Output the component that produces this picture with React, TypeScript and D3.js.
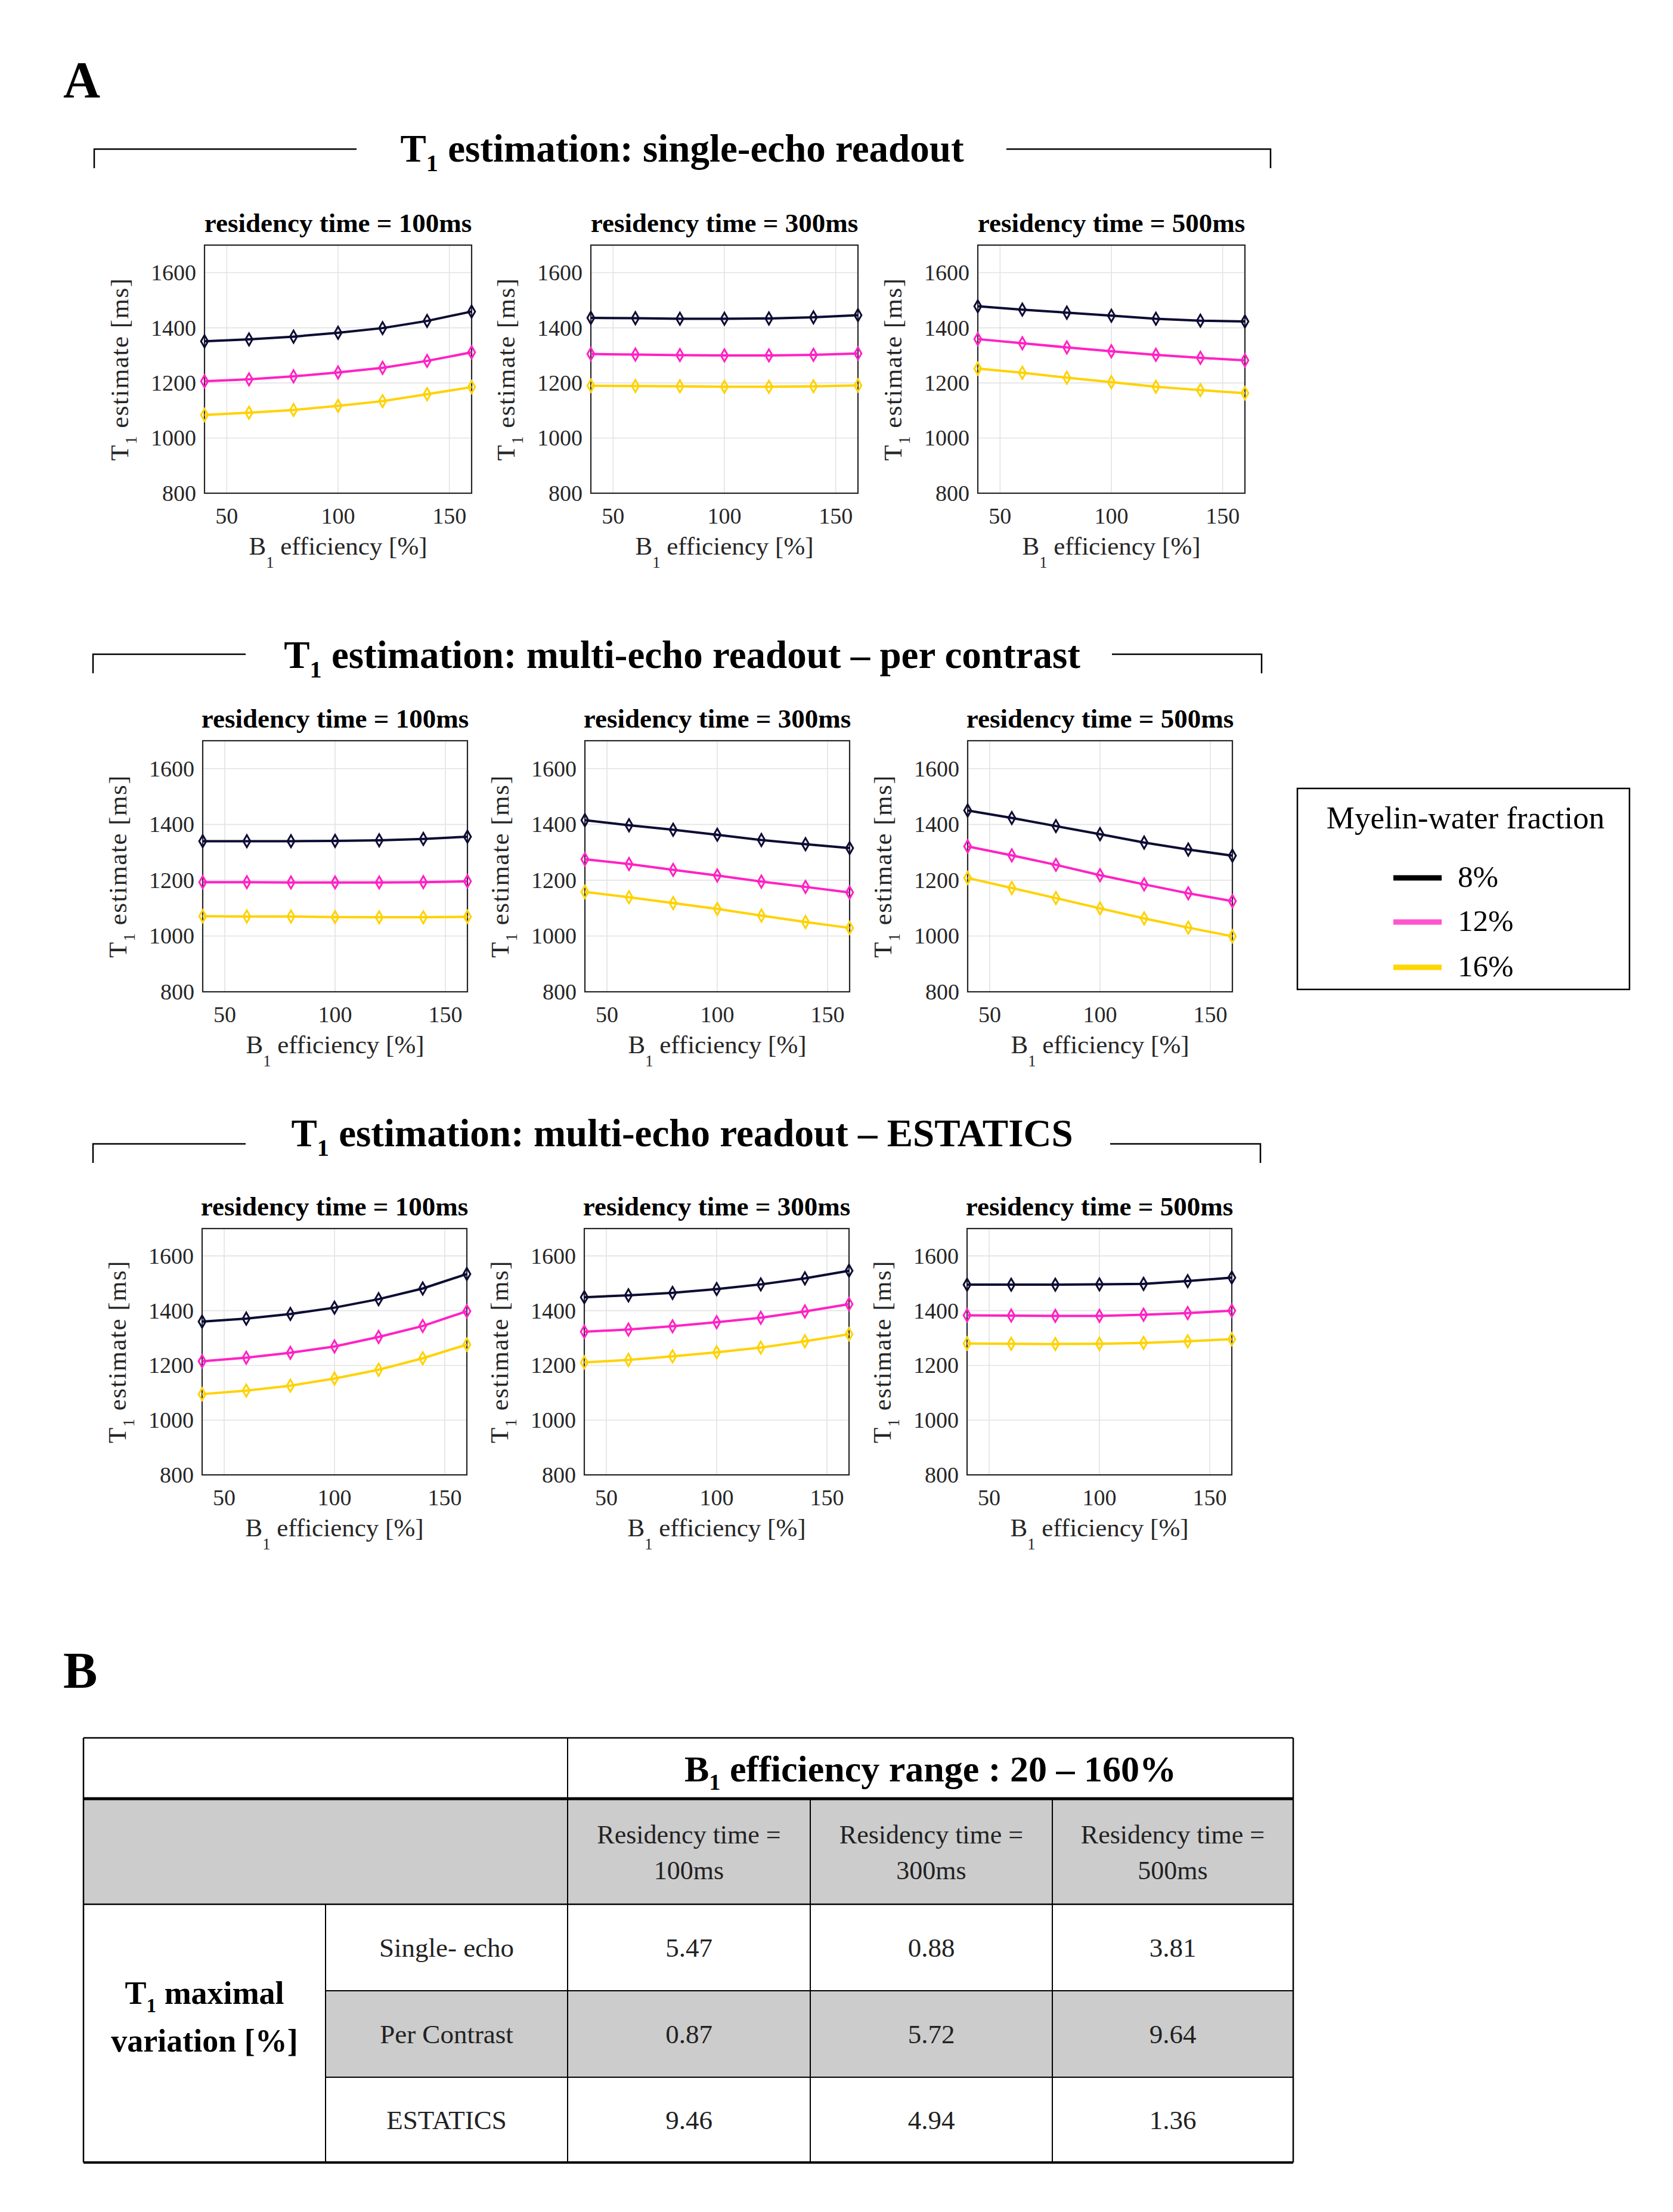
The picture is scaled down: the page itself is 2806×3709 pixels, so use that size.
import React from "react";
import * as d3 from "d3";

// B1 efficiency sample points (x) shared by every panel
const b1Efficiency = [40, 60, 80, 100, 120, 140, 160];
const xTicks = [50, 100, 150];
const yTicks = [800, 1000, 1200, 1400, 1600];
const mwfLabels = ["8%", "12%", "16%"];
const residencyTimes = ["100ms", "300ms", "500ms"];

// T1 estimates [ms], one array per myelin-water fraction (8%, 12%, 16%)
const singleEcho100 = [
  [1351, 1358, 1368, 1382, 1399, 1425, 1459],
  [1206, 1213, 1224, 1238, 1255, 1280, 1311],
  [1084, 1092, 1102, 1117, 1134, 1159, 1185],
];
const singleEcho300 = [
  [1436, 1435, 1433, 1433, 1434, 1438, 1446],
  [1305, 1303, 1301, 1300, 1300, 1302, 1307],
  [1190, 1189, 1188, 1186, 1186, 1188, 1191],
];
const singleEcho500 = [
  [1478, 1466, 1455, 1444, 1433, 1426, 1423],
  [1359, 1344, 1329, 1315, 1302, 1291, 1282],
  [1252, 1237, 1219, 1203, 1186, 1174, 1163],
];
const perContrast100 = [
  [1340, 1340, 1340, 1341, 1343, 1348, 1356],
  [1193, 1193, 1192, 1192, 1192, 1193, 1196],
  [1071, 1070, 1070, 1068, 1067, 1067, 1069],
];
const perContrast300 = [
  [1415, 1397, 1381, 1363, 1344, 1329, 1315],
  [1275, 1258, 1237, 1217, 1195, 1176, 1156],
  [1158, 1139, 1118, 1097, 1073, 1050, 1029],
];
const perContrast500 = [
  [1450, 1423, 1394, 1365, 1335, 1310, 1288],
  [1321, 1289, 1255, 1218, 1185, 1153, 1125],
  [1208, 1172, 1136, 1099, 1063, 1030, 999],
];
const estatics100 = [
  [1360, 1371, 1388, 1411, 1442, 1481, 1534],
  [1215, 1228, 1246, 1269, 1304, 1344, 1398],
  [1095, 1108, 1126, 1152, 1184, 1226, 1276],
];
const estatics300 = [
  [1449, 1456, 1465, 1479, 1496, 1518, 1546],
  [1323, 1331, 1343, 1358, 1374, 1397, 1424],
  [1211, 1220, 1233, 1248, 1265, 1288, 1314],
];
const estatics500 = [
  [1495, 1495, 1495, 1496, 1498, 1508, 1521],
  [1383, 1382, 1381, 1381, 1385, 1391, 1400],
  [1280, 1279, 1278, 1279, 1282, 1288, 1296],
];

const sectionTitles = [
  "estimation: single-echo readout",
  "estimation: multi-echo readout \u2013 per contrast",
  "estimation: multi-echo readout \u2013 ESTATICS",
];
const sectionPanels = [
  [singleEcho100, singleEcho300, singleEcho500],
  [perContrast100, perContrast300, perContrast500],
  [estatics100, estatics300, estatics500],
];

// table (panel B)
const tableHeader = "efficiency range : 20 \u2013 160%";
const tableRowLabels = ["Single- echo", "Per Contrast", "ESTATICS"];
const singleEchoVar = ["5.47", "0.88", "3.81"];
const perContrastVar = ["0.87", "5.72", "9.64"];
const estaticsVar = ["9.46", "4.94", "1.36"];
const tableValues = [singleEchoVar, perContrastVar, estaticsVar];

// styling / layout
const FONT = "'Liberation Serif', 'DejaVu Serif', serif";
const lineColors = ["#0c0c34", "#ff22c4", "#ffd200"];
const legendColors = ["#000000", "#ff55cf", "#ffd600"];
const TICK_COLOR = "#262626";

const rows = [
  { top: 411, bottom: 827, lefts: [343, 991, 1640], w: 448, titleY: 271, lineY: 250, lineL: [158, 598], lineR: [1688, 2131] },
  { top: 1242, bottom: 1663, lefts: [340, 981, 1623], w: 444, titleY: 1120, lineY: 1097, lineL: [156, 412], lineR: [1865, 2116] },
  { top: 2060, bottom: 2473, lefts: [339, 980, 1622], w: 444, titleY: 1922, lineY: 1918, lineL: [156, 412], lineR: [1862, 2114] },
];

const Sub = ({ base, sub, rest, size, drop }: any) => (
  <>
    <tspan>{base}</tspan>
    <tspan fontSize={size * 0.62} dy={drop}>{sub}</tspan>
    <tspan dy={-drop}>{rest}</tspan>
  </>
);

function Panel({ x0, top, bottom, w, series, title }: any) {
  const x = d3.scaleLinear().domain([40, 160]).range([x0, x0 + w]);
  const y = d3.scaleLinear().domain([800, 1700]).range([bottom, top]);
  const line = d3
    .line<number>()
    .x((_, i) => x(b1Efficiency[i]))
    .y((d) => y(d));
  const diamond = d3.symbol(d3.symbolDiamond, 120)();
  const cx = x0 + w / 2;
  const cy = (top + bottom) / 2;
  return (
    <g>
      <text x={cx} y={top - 22} textAnchor="middle" fontWeight="bold" fontSize={45} fill="#000">
        residency time = {title}
      </text>
      {/* grid */}
      {xTicks.map((t) => (
        <line key={"gx" + t} x1={x(t)} x2={x(t)} y1={top} y2={bottom} stroke="#e3e3e3" strokeWidth={1.6} />
      ))}
      {yTicks.slice(1).map((t) => (
        <line key={"gy" + t} x1={x0} x2={x0 + w} y1={y(t)} y2={y(t)} stroke="#e3e3e3" strokeWidth={1.6} />
      ))}
      <rect x={x0} y={top} width={w} height={bottom - top} fill="none" stroke="#262626" strokeWidth={2.2} />
      {/* tick labels */}
      {yTicks.map((t) => (
        <text key={"ty" + t} x={x0 - 14} y={y(t)} dy="0.34em" textAnchor="end" fontSize={38} fill={TICK_COLOR}>
          {t}
        </text>
      ))}
      {xTicks.map((t) => (
        <text key={"tx" + t} x={x(t)} y={bottom + 51} textAnchor="middle" fontSize={38} fill={TICK_COLOR}>
          {t}
        </text>
      ))}
      <text x={cx} y={bottom + 103} textAnchor="middle" fontSize={43} fill={TICK_COLOR}>
        <Sub base="B" sub="1" rest=" efficiency [%]" size={43} drop={22} />
      </text>
      <text
        transform={`translate(${x0 - 128},${cy}) rotate(-90)`}
        textAnchor="middle"
        fontSize={43}
        fill={TICK_COLOR}
        letterSpacing={1.5}
      >
        <Sub base="T" sub="1" rest=" estimate [ms]" size={43} drop={14} />
      </text>
      {/* series */}
      {series.map((s: number[], k: number) => (
        <g key={k}>
          <path d={line(s) || ""} fill="none" stroke={lineColors[k]} strokeWidth={4} />
          {s.map((v, i) => (
            <path
              key={i}
              d={diamond || ""}
              transform={`translate(${x(b1Efficiency[i])},${y(v)})`}
              fill="none"
              stroke={lineColors[k]}
              strokeWidth={3}
            />
          ))}
        </g>
      ))}
    </g>
  );
}

function Table() {
  const cols = [140, 546, 952, 1359, 1765, 2169];
  const rowsY = [2914, 3016, 3193, 3338, 3483, 3626];
  const valueBaselines = [3281, 3426, 3570];
  const colCenter = (i: number) => (cols[i] + cols[i + 1]) / 2;
  return (
    <g fontFamily={FONT}>
      <rect x={cols[0]} y={rowsY[1]} width={cols[5] - cols[0]} height={rowsY[2] - rowsY[1]} fill="#cccccc" />
      <rect x={cols[1]} y={rowsY[3]} width={cols[5] - cols[1]} height={rowsY[4] - rowsY[3]} fill="#cccccc" />
      {/* horizontal lines */}
      <line x1={cols[0]} x2={cols[5]} y1={rowsY[0]} y2={rowsY[0]} stroke="#000" strokeWidth={2.5} />
      <line x1={cols[0]} x2={cols[5]} y1={rowsY[1]} y2={rowsY[1]} stroke="#000" strokeWidth={5} />
      <line x1={cols[0]} x2={cols[5]} y1={rowsY[2]} y2={rowsY[2]} stroke="#000" strokeWidth={2.5} />
      <line x1={cols[1]} x2={cols[5]} y1={rowsY[3]} y2={rowsY[3]} stroke="#000" strokeWidth={2} />
      <line x1={cols[1]} x2={cols[5]} y1={rowsY[4]} y2={rowsY[4]} stroke="#000" strokeWidth={2} />
      <line x1={cols[0]} x2={cols[5]} y1={rowsY[5]} y2={rowsY[5]} stroke="#000" strokeWidth={4} />
      {/* vertical lines */}
      <line x1={cols[0]} x2={cols[0]} y1={rowsY[0]} y2={rowsY[5]} stroke="#000" strokeWidth={2.5} />
      <line x1={cols[5]} x2={cols[5]} y1={rowsY[0]} y2={rowsY[5]} stroke="#000" strokeWidth={2.5} />
      <line x1={cols[2]} x2={cols[2]} y1={rowsY[0]} y2={rowsY[5]} stroke="#000" strokeWidth={2} />
      <line x1={cols[1]} x2={cols[1]} y1={rowsY[2]} y2={rowsY[5]} stroke="#000" strokeWidth={2} />
      <line x1={cols[3]} x2={cols[3]} y1={rowsY[1]} y2={rowsY[5]} stroke="#000" strokeWidth={2} />
      <line x1={cols[4]} x2={cols[4]} y1={rowsY[1]} y2={rowsY[5]} stroke="#000" strokeWidth={2} />

      <text x={(cols[2] + cols[5]) / 2} y={2987} textAnchor="middle" fontWeight="bold" fontSize={62}>
        <Sub base="B" sub="1" rest={" " + tableHeader} size={62} drop={14} />
      </text>
      {residencyTimes.map((r, i) => (
        <g key={r}>
          <text x={colCenter(i + 2)} y={3091} textAnchor="middle" fontSize={44} fill="#222">
            Residency time =
          </text>
          <text x={colCenter(i + 2)} y={3151} textAnchor="middle" fontSize={44} fill="#222">
            {r}
          </text>
        </g>
      ))}
      <text x={colCenter(0)} y={3360} textAnchor="middle" fontWeight="bold" fontSize={54}>
        <Sub base="T" sub="1" rest=" maximal" size={54} drop={14} />
      </text>
      <text x={colCenter(0)} y={3440} textAnchor="middle" fontWeight="bold" fontSize={54}>
        variation [%]
      </text>
      {tableRowLabels.map((lab, r) => (
        <g key={lab}>
          <text x={colCenter(1)} y={valueBaselines[r]} textAnchor="middle" fontSize={45} fill="#222">
            {lab}
          </text>
          {tableValues[r].map((v, c) => (
            <text key={c} x={colCenter(c + 2)} y={valueBaselines[r]} textAnchor="middle" fontSize={45} fill="#222">
              {v}
            </text>
          ))}
        </g>
      ))}
    </g>
  );
}

export default function App() {
  return (
    <svg
      width={2806}
      height={3709}
      style={{ position: "absolute", left: 0, top: 0, background: "#fff" }}
      fontFamily={FONT}
    >
      <rect x={0} y={0} width={2806} height={3709} fill="#fff" />
      <text x={106} y={163} fontWeight="bold" fontSize={86}>A</text>
      <text x={106} y={2830} fontWeight="bold" fontSize={86}>B</text>

      {rows.map((row, r) => (
        <g key={r}>
          <text x={1144} y={row.titleY} textAnchor="middle" fontWeight="bold" fontSize={65}>
            <Sub base="T" sub="1" rest={" " + sectionTitles[r]} size={65} drop={16} />
          </text>
          <path
            d={`M${row.lineL[0]},${row.lineY + 32}V${row.lineY}H${row.lineL[1]}`}
            fill="none"
            stroke="#000"
            strokeWidth={2.5}
          />
          <path
            d={`M${row.lineR[0]},${row.lineY}H${row.lineR[1]}V${row.lineY + 32}`}
            fill="none"
            stroke="#000"
            strokeWidth={2.5}
          />
          {sectionPanels[r].map((series, c) => (
            <Panel
              key={c}
              x0={row.lefts[c]}
              top={row.top}
              bottom={row.bottom}
              w={row.w}
              series={series}
              title={residencyTimes[c]}
            />
          ))}
        </g>
      ))}

      {/* legend */}
      <rect x={2176} y={1322} width={557} height={337} fill="#fff" stroke="#000" strokeWidth={2.5} />
      <text x={2458} y={1389} textAnchor="middle" fontSize={53}>Myelin-water fraction</text>
      {mwfLabels.map((lab, i) => {
        const ly = [1472, 1546, 1622][i];
        return (
          <g key={lab}>
            <line x1={2337} x2={2418} y1={ly} y2={ly} stroke={legendColors[i]} strokeWidth={9} />
            <text x={2445} y={ly + 15} fontSize={51}>{lab}</text>
          </g>
        );
      })}

      <Table />
    </svg>
  );
}
